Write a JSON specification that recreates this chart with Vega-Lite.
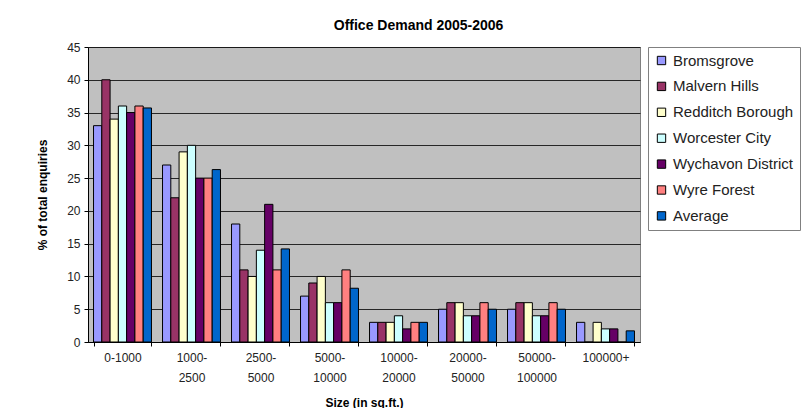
{
  "$schema": "https://vega.github.io/schema/vega-lite/v6.json",
  "width": 552,
  "height": 295,
  "padding": {"left": 36, "top": 19, "right": 0, "bottom": 0},
  "background": "white",
  "title": {"text": "Office Demand 2005-2006", "font": "Liberation Sans", "fontSize": 14, "fontWeight": "bold", "color": "#000000", "anchor": "middle", "frame": "bounds", "offset": 8},
  "config": {
    "font": "Liberation Sans",
    "view": {"fill": "#c0c0c0", "stroke": "#808080", "strokeWidth": 1}
  },
  "data": {"values": [
    {"size": "0-1000", "area": "Bromsgrove", "value": 33},
    {"size": "0-1000", "area": "Malvern Hills", "value": 40},
    {"size": "0-1000", "area": "Redditch Borough", "value": 34},
    {"size": "0-1000", "area": "Worcester City", "value": 36},
    {"size": "0-1000", "area": "Wychavon District", "value": 35},
    {"size": "0-1000", "area": "Wyre Forest", "value": 36},
    {"size": "0-1000", "area": "Average", "value": 35.7},
    {"size": "1000-2500", "area": "Bromsgrove", "value": 27},
    {"size": "1000-2500", "area": "Malvern Hills", "value": 22},
    {"size": "1000-2500", "area": "Redditch Borough", "value": 29},
    {"size": "1000-2500", "area": "Worcester City", "value": 30},
    {"size": "1000-2500", "area": "Wychavon District", "value": 25},
    {"size": "1000-2500", "area": "Wyre Forest", "value": 25},
    {"size": "1000-2500", "area": "Average", "value": 26.3},
    {"size": "2500-5000", "area": "Bromsgrove", "value": 18},
    {"size": "2500-5000", "area": "Malvern Hills", "value": 11},
    {"size": "2500-5000", "area": "Redditch Borough", "value": 10},
    {"size": "2500-5000", "area": "Worcester City", "value": 14},
    {"size": "2500-5000", "area": "Wychavon District", "value": 21},
    {"size": "2500-5000", "area": "Wyre Forest", "value": 11},
    {"size": "2500-5000", "area": "Average", "value": 14.2},
    {"size": "5000-10000", "area": "Bromsgrove", "value": 7},
    {"size": "5000-10000", "area": "Malvern Hills", "value": 9},
    {"size": "5000-10000", "area": "Redditch Borough", "value": 10},
    {"size": "5000-10000", "area": "Worcester City", "value": 6},
    {"size": "5000-10000", "area": "Wychavon District", "value": 6},
    {"size": "5000-10000", "area": "Wyre Forest", "value": 11},
    {"size": "5000-10000", "area": "Average", "value": 8.2},
    {"size": "10000-20000", "area": "Bromsgrove", "value": 3},
    {"size": "10000-20000", "area": "Malvern Hills", "value": 3},
    {"size": "10000-20000", "area": "Redditch Borough", "value": 3},
    {"size": "10000-20000", "area": "Worcester City", "value": 4},
    {"size": "10000-20000", "area": "Wychavon District", "value": 2},
    {"size": "10000-20000", "area": "Wyre Forest", "value": 3},
    {"size": "10000-20000", "area": "Average", "value": 3},
    {"size": "20000-50000", "area": "Bromsgrove", "value": 5},
    {"size": "20000-50000", "area": "Malvern Hills", "value": 6},
    {"size": "20000-50000", "area": "Redditch Borough", "value": 6},
    {"size": "20000-50000", "area": "Worcester City", "value": 4},
    {"size": "20000-50000", "area": "Wychavon District", "value": 4},
    {"size": "20000-50000", "area": "Wyre Forest", "value": 6},
    {"size": "20000-50000", "area": "Average", "value": 5},
    {"size": "50000-100000", "area": "Bromsgrove", "value": 5},
    {"size": "50000-100000", "area": "Malvern Hills", "value": 6},
    {"size": "50000-100000", "area": "Redditch Borough", "value": 6},
    {"size": "50000-100000", "area": "Worcester City", "value": 4},
    {"size": "50000-100000", "area": "Wychavon District", "value": 4},
    {"size": "50000-100000", "area": "Wyre Forest", "value": 6},
    {"size": "50000-100000", "area": "Average", "value": 5},
    {"size": "100000+", "area": "Bromsgrove", "value": 3},
    {"size": "100000+", "area": "Malvern Hills", "value": 0},
    {"size": "100000+", "area": "Redditch Borough", "value": 3},
    {"size": "100000+", "area": "Worcester City", "value": 2},
    {"size": "100000+", "area": "Wychavon District", "value": 2},
    {"size": "100000+", "area": "Wyre Forest", "value": 0},
    {"size": "100000+", "area": "Average", "value": 1.7}
  ]},
  "mark": {"type": "bar", "stroke": "#000000", "strokeWidth": 1},
  "encoding": {
    "x": {
      "field": "size", "type": "nominal", "sort": null,
      "scale": {"paddingInner": 0.16, "paddingOuter": 0.08},
      "axis": {
        "title": "Size (in sq.ft.)", "titleFontSize": 12, "titleFontWeight": "bold", "titleColor": "#000000", "titlePadding": 14,
        "labelAngle": 0, "labelFontSize": 12, "labelColor": "#222222", "labelPadding": 6, "labelLineHeight": 20,
        "labelExpr": "datum.label == '0-1000' || indexof(datum.label, '-') < 0 ? datum.label : [substring(datum.label, 0, indexof(datum.label, '-') + 1), substring(datum.label, indexof(datum.label, '-') + 1)]",
        "tickBand": "extent", "tickColor": "#000000", "tickSize": 4,
        "domainColor": "#000000", "grid": false
      }
    },
    "xOffset": {"field": "area", "type": "nominal", "sort": ["Bromsgrove", "Malvern Hills", "Redditch Borough", "Worcester City", "Wychavon District", "Wyre Forest", "Average"]},
    "y": {
      "field": "value", "type": "quantitative",
      "scale": {"domain": [0, 45], "nice": false},
      "axis": {
        "title": "% of total enquiries", "titleFontSize": 12, "titleFontWeight": "bold", "titleColor": "#000000", "titlePadding": 17,
        "values": [0, 5, 10, 15, 20, 25, 30, 35, 40, 45],
        "labelFontSize": 12, "labelColor": "#222222", "labelPadding": 4,
        "tickColor": "#000000", "tickSize": 4, "domainColor": "#000000",
        "grid": true, "gridColor": "#000000", "gridWidth": 1, "gridOpacity": 0.8
      }
    },
    "color": {
      "field": "area", "type": "nominal",
      "sort": ["Bromsgrove", "Malvern Hills", "Redditch Borough", "Worcester City", "Wychavon District", "Wyre Forest", "Average"],
      "scale": {
        "domain": ["Bromsgrove", "Malvern Hills", "Redditch Borough", "Worcester City", "Wychavon District", "Wyre Forest", "Average"],
        "range": ["#9999ff", "#993366", "#ffffcc", "#ccffff", "#660066", "#ff8080", "#0066cc"]
      },
      "legend": {
        "title": null, "orient": "right", "offset": 8,
        "symbolType": "square", "symbolSize": 70, "symbolStrokeColor": "#000000", "symbolStrokeWidth": 1,
        "labelFontSize": 15, "labelColor": "#222222", "rowPadding": 9.9, "labelOffset": 4, "labelLimit": 300,
        "strokeColor": "#808080", "fillColor": "#ffffff", "padding": 6
      }
    }
  }
}
